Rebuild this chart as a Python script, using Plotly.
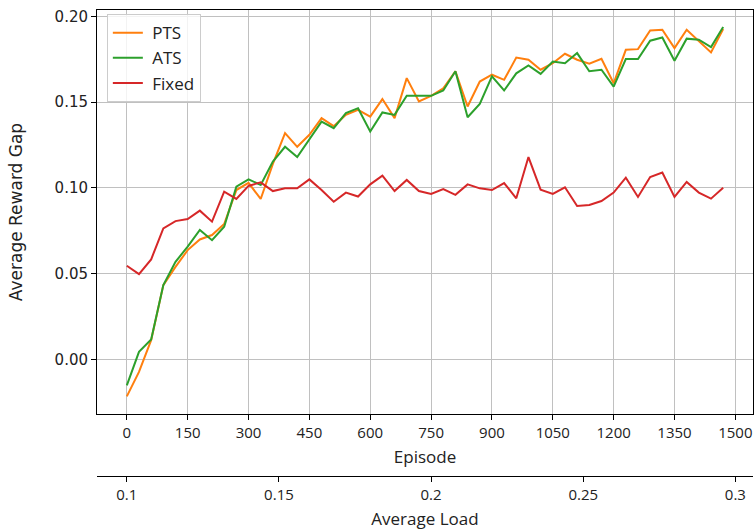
import plotly.graph_objects as go

episodes = list(range(0, 1500, 30))

pts = [-0.0214, -0.0072, 0.0113, 0.0434, 0.054, 0.0638, 0.070, 0.0726, 0.079, 0.0988,
       0.103, 0.0936, 0.114, 0.132, 0.124, 0.131, 0.1407, 0.136, 0.1426, 0.1455,
       0.1416, 0.1518, 0.1407, 0.164, 0.1504, 0.1537, 0.158, 0.168, 0.1475, 0.162,
       0.166, 0.163, 0.176, 0.1747, 0.1689, 0.1727, 0.1782, 0.1747, 0.1724, 0.1753,
       0.161, 0.1805, 0.1809, 0.1918, 0.1922, 0.1815, 0.1922, 0.1854, 0.179, 0.1926]

ats = [-0.015, 0.0045, 0.0117, 0.0434, 0.057, 0.0658, 0.0755, 0.0696, 0.0774, 0.1008,
       0.105, 0.1018, 0.1154, 0.124, 0.118, 0.128, 0.1387, 0.1348, 0.1436, 0.1465,
       0.1329, 0.144, 0.1426, 0.1537, 0.1537, 0.1537, 0.1568, 0.168, 0.1412, 0.149,
       0.165, 0.1568, 0.1668, 0.1714, 0.1665, 0.1737, 0.1727, 0.1786, 0.168, 0.1689,
       0.1591, 0.1751, 0.1751, 0.1858, 0.1877, 0.1741, 0.187, 0.1864, 0.1821, 0.1938]

fixed = [0.0547, 0.0498, 0.0584, 0.0765, 0.0807, 0.0819, 0.0868, 0.0804, 0.0979, 0.0936,
         0.1012, 0.1033, 0.0982, 0.0998, 0.0998, 0.105, 0.0988, 0.092, 0.0973, 0.095,
         0.1021, 0.1072, 0.0982, 0.1047, 0.0982, 0.0965, 0.0994, 0.096, 0.1021, 0.0998,
         0.0988, 0.1029, 0.094, 0.118, 0.099, 0.0965, 0.1004, 0.0895, 0.0901, 0.0924,
         0.0973, 0.106, 0.0948, 0.1064, 0.109, 0.0948, 0.1035, 0.0973, 0.0938, 0.1002]

series_names = ["PTS", "ATS", "Fixed"]
episode_ticks = list(range(0, 1501, 150))
load_ticks = [0.1, 0.15, 0.2, 0.25, 0.3]
load_labels = ["0.1", "0.15", "0.2", "0.25", "0.3"]
y_ticks = [0.0, 0.05, 0.10, 0.15, 0.20]

DV = "DejaVu Sans"
OS = "Open Sans"
TXT = "#222"
x_range = [-73.5, 1543.5]
load_range = [0.1 + r / 1500 * 0.2 for r in x_range]

fig = go.Figure()
for name, vals, col in zip(series_names, [pts, ats, fixed], ["#ff7f0e", "#2ca02c", "#d62728"]):
    fig.add_trace(go.Scatter(x=episodes, y=vals, mode="lines", name=" " + name,
                             line=dict(color=col, width=2)))

fig.add_trace(go.Scatter(x=load_ticks, y=[None] * len(load_ticks), xaxis="x2", yaxis="y",
                         showlegend=False, hoverinfo="skip", mode="lines"))

axis_common = dict(ticks="outside", ticklen=5, tickcolor="black", linecolor="black",
                   showline=True, zeroline=False)

fig.update_layout(
    width=755, height=531,
    margin=dict(l=97, r=2, t=10, b=55),
    paper_bgcolor="white", plot_bgcolor="white",
    font=dict(family=DV, size=15, color=TXT),
    xaxis=dict(range=x_range, tickvals=episode_ticks, anchor="y", mirror=True,
               showgrid=True, gridcolor="#c0c0c0", gridwidth=1,
               tickfont=dict(family=OS, size=15, color=TXT),
               title=dict(text="Episode", font=dict(family=OS, size=17, color=TXT), standoff=10),
               **axis_common),
    xaxis2=dict(range=load_range, tickvals=load_ticks, ticktext=load_labels,
                overlaying="x", anchor="free", position=0, side="bottom",
                showgrid=False,
                tickfont=dict(family=OS, size=15, color=TXT),
                title=dict(text="Average Load", font=dict(family=OS, size=17, color=TXT), standoff=10),
                **axis_common),
    yaxis=dict(range=[-0.0317, 0.2037], domain=[0.133, 1], tickvals=y_ticks,
               tickformat=".2f", mirror=True, showgrid=True, gridcolor="#c0c0c0", gridwidth=1,
               tickfont=dict(family=DV, size=15, color=TXT),
               title=dict(text="Average Reward Gap", font=dict(family=DV, size=17, color=TXT), standoff=27),
               **axis_common),
    legend=dict(x=0.015, y=0.991, xanchor="left", yanchor="top",
                bgcolor="rgba(255,255,255,0.8)", bordercolor="#cccccc", borderwidth=1,
                entrywidth=120, entrywidthmode="pixels",
                font=dict(family=OS, size=17, color=TXT)),
    showlegend=True,
)

fig.write_html("out.html")
